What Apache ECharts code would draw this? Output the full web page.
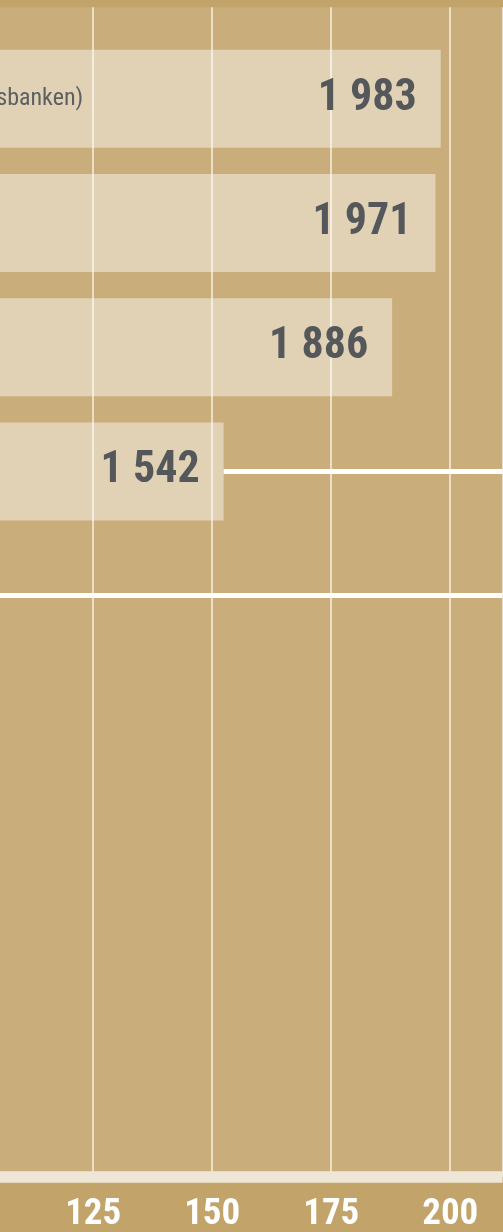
<!DOCTYPE html>
<html>
<head>
<meta charset="utf-8">
<script src="https://cdn.jsdelivr.net/npm/echarts@6/dist/echarts.min.js"></script>
<style>
  html, body { margin: 0; padding: 0; background: #c2a36a; }
  #chart { width: 503px; height: 1232px; }
</style>
</head>
<body>
<div id="chart"></div>
<script>
// data
const names = ['sbanken)', '', '', '', ''];
const barValues = [198.0, 196.9, 187.8, 152.4];
const valueLabels = ['1 983', '1 971', '1 886', '1 542'];

const X_MIN = 100, X_MAX = 211, X_STEP = 25;
const FONT = '"Liberation Sans Narrow", "Roboto Condensed", "DejaVu Sans Condensed", sans-serif';

const chart = echarts.init(document.getElementById('chart'));

const option = {
  animation: false,
  grid: [
    // grid 0: background, gridlines and the bottom axis
    { left: -25.8, right: 0.4, top: 7.3, bottom: 55.1, show: true,
      backgroundColor: '#c9ae7b', borderWidth: 0, outerBoundsMode: 'none', containLabel: false },
    // grid 1: the bars (category rows)
    { left: -25.8, right: 0.4, top: 36.66, height: 621.1, outerBoundsMode: 'none', containLabel: false }
  ],
  xAxis: [
    {
      gridIndex: 0, type: 'value', min: X_MIN, max: X_MAX, interval: X_STEP,
      axisLine: { show: true, lineStyle: { color: '#eee7d8', width: 11.7, cap: 'butt' } },
      axisTick: { show: false },
      splitLine: { show: true, lineStyle: { color: 'rgba(250,244,232,0.7)', width: 2 } },
      axisLabel: { color: '#fff', fontFamily: FONT, fontWeight: 'bold', fontSize: 37, margin: 19,
        showMinLabel: false }
    },
    { gridIndex: 1, type: 'value', min: X_MIN, max: X_MAX, show: false }
  ],
  yAxis: [
    { gridIndex: 0, type: 'value', show: false },
    {
      gridIndex: 1, type: 'category', inverse: true, data: names, z: 5,
      axisLine: { show: false }, axisTick: { show: false }, splitLine: { show: false },
      axisLabel: { inside: true, margin: 22, color: '#5d6063', fontFamily: FONT, fontSize: 24 }
    }
  ],
  series: [
    {
      type: 'bar', xAxisIndex: 1, yAxisIndex: 1,
      data: barValues, barWidth: 98,
      itemStyle: { color: 'rgba(255,255,255,0.44)' },
      label: {
        show: true, position: 'insideRight', distance: 24,
        formatter: (p) => valueLabels[p.dataIndex],
        color: '#55585b', fontFamily: FONT, fontWeight: 'bold', fontSize: 44
      },
      markLine: {
        silent: true, symbol: 'none', label: { show: false },
        lineStyle: { color: '#ffffff', width: 5, type: 'solid' },
        data: [
          [{ coord: [barValues[3], 3] }, { coord: [X_MAX, 3] }],
          { yAxis: 4 }
        ]
      }
    }
  ]
};

chart.setOption(option);
</script>
</body>
</html>
